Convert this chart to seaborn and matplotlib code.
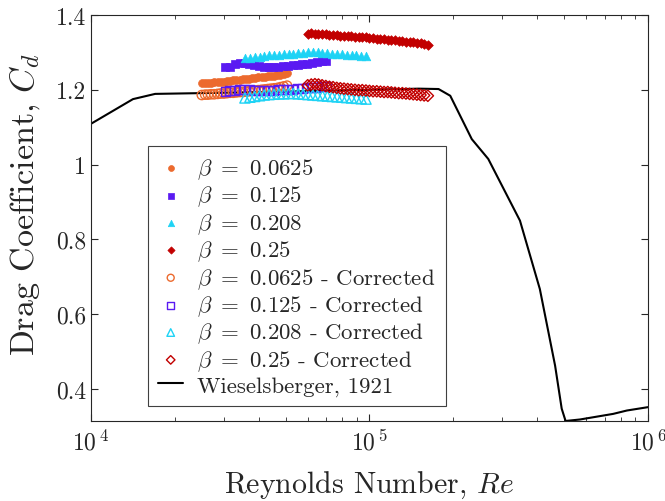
import matplotlib
matplotlib.use("Agg")
import matplotlib.pyplot as plt
import numpy as np
import pandas as pd
import seaborn as sns
from matplotlib.ticker import FixedLocator, FuncFormatter, LogLocator, NullFormatter

# Wieselsberger (1921) reference curve
wies_re = [1.0e4, 1.415e4, 1.7e4, 2.46e4, 5.0e4, 1.0e5, 1.5e5, 1.77e5, 1.95e5, 2.33e5, 2.67e5,
           3.47e5, 4.09e5, 4.64e5, 4.9e5, 5.06e5, 5.7e5, 7.5e5, 8.4e5, 1.0e6]
wies_cd = [1.109, 1.175, 1.189, 1.191, 1.195, 1.200, 1.203, 1.202, 1.184, 1.068, 1.015,
           0.850, 0.667, 0.462, 0.347, 0.314, 0.318, 0.333, 0.342, 0.351]

# beta = 0.0625
re_0625 = [25000, 25700, 26300, 27000, 27700, 28500, 29200, 30000, 30800, 31600, 32400, 33300,
           34200, 35100, 36000, 36900, 37900, 38900, 39900, 41000, 42100, 43200, 44300, 45500,
           46700, 47900, 49200, 50600]
cd_0625 = [1.217, 1.218, 1.219, 1.219, 1.220, 1.221, 1.222, 1.222, 1.223, 1.224, 1.225, 1.226,
           1.227, 1.228, 1.229, 1.230, 1.231, 1.232, 1.233, 1.234, 1.235, 1.236, 1.237, 1.238,
           1.239, 1.240, 1.242, 1.244]
cd_0625_corr = [1.186, 1.187, 1.187, 1.188, 1.188, 1.189, 1.190, 1.190, 1.191, 1.192, 1.192, 1.193,
                1.194, 1.194, 1.195, 1.196, 1.197, 1.198, 1.199, 1.200, 1.201, 1.202, 1.203, 1.204,
                1.205, 1.207, 1.209, 1.211]

# beta = 0.125
re_125 = [30300, 31500, 32800, 34200, 35600, 37000, 38500, 40100, 41700, 43400, 45200, 47000,
          48900, 50900, 53000, 55200, 57400, 59800, 62200, 64700, 67300, 70000]
cd_125 = [1.260, 1.262, 1.268, 1.272, 1.272, 1.268, 1.265, 1.263, 1.262, 1.261, 1.262, 1.262,
          1.263, 1.264, 1.265, 1.266, 1.268, 1.270, 1.272, 1.274, 1.276, 1.278]
cd_125_corr = [1.195, 1.197, 1.199, 1.201, 1.202, 1.200, 1.198, 1.197, 1.197, 1.198, 1.199, 1.200,
               1.200, 1.201, 1.202, 1.203, 1.204, 1.205, 1.206, 1.207, 1.208, 1.209]

# beta = 0.208
re_208 = [35700, 37200, 38700, 40300, 41900, 43600, 45400, 47300, 49200, 51200, 53300, 55500,
          57800, 60100, 62600, 65100, 67800, 70600, 73500, 76500, 79600, 82800, 86200, 89800,
          93400, 97200]
cd_208 = [1.284, 1.286, 1.288, 1.289, 1.290, 1.292, 1.293, 1.294, 1.295, 1.296, 1.297, 1.298,
          1.299, 1.300, 1.300, 1.300, 1.299, 1.298, 1.297, 1.296, 1.295, 1.294, 1.293, 1.292,
          1.291, 1.290]
cd_208_corr = [1.178, 1.180, 1.182, 1.184, 1.186, 1.187, 1.188, 1.189, 1.189, 1.190, 1.190, 1.189,
               1.188, 1.187, 1.186, 1.185, 1.184, 1.183, 1.182, 1.181, 1.180, 1.179, 1.178, 1.177,
               1.176, 1.175]

# beta = 0.25
re_25 = [60000, 61800, 63700, 65600, 67600, 69700, 71800, 74000, 76300, 78600, 81000, 83500,
         86000, 88700, 91400, 94200, 97100, 100000, 103000, 106200, 109500, 112800, 116300,
         119800, 123500, 127300, 131200, 135200, 139300, 143600, 148000, 152500, 157100, 162000]
cd_25 = [1.350, 1.351, 1.350, 1.349, 1.349, 1.348, 1.347, 1.347, 1.346, 1.345, 1.344, 1.344,
         1.343, 1.342, 1.341, 1.341, 1.340, 1.339, 1.338, 1.337, 1.336, 1.335, 1.334, 1.333,
         1.332, 1.331, 1.330, 1.329, 1.328, 1.327, 1.326, 1.324, 1.323, 1.321]
cd_25_corr = [1.212, 1.214, 1.215, 1.214, 1.212, 1.210, 1.208, 1.207, 1.205, 1.204, 1.203, 1.202,
              1.201, 1.200, 1.199, 1.199, 1.198, 1.197, 1.196, 1.196, 1.195, 1.194, 1.194, 1.193,
              1.192, 1.191, 1.191, 1.190, 1.189, 1.188, 1.187, 1.186, 1.185, 1.184]

betas = ["0.0625", "0.125", "0.208", "0.25"]
colors = ["#EC6A2E", "#5A1AF2", "#1ED3F5", "#C20000"]
markers = ["o", "s", "^", "D"]
sizes = [32, 30, 38, 24]

series = [
    (re_0625, cd_0625, cd_0625_corr),
    (re_125, cd_125, cd_125_corr),
    (re_208, cd_208, cd_208_corr),
    (re_25, cd_25, cd_25_corr),
]

sns.set_theme(style="ticks")
plt.rcParams["font.family"] = ["cmr10", "DejaVu Serif"]
plt.rcParams["mathtext.fontset"] = "cm"
plt.rcParams["axes.formatter.use_mathtext"] = True
plt.rcParams["axes.unicode_minus"] = False

fig = plt.figure(figsize=(6.65, 5.02), dpi=100)
ax = fig.add_axes([0.1368, 0.1594, 0.8376, 0.8087])

for (re, cd, _), beta, c, m, s in zip(series, betas, colors, markers, sizes):
    df = pd.DataFrame({"Re": re, "Cd": cd})
    sns.scatterplot(data=df, x="Re", y="Cd", marker=m, s=s, color=c, edgecolor=c,
                    linewidth=0.5, ax=ax, label=rf"$\beta\ =\ {beta}$", zorder=3)

for (re, _, cdc), beta, c, m, s in zip(series, betas, colors, markers, sizes):
    df = pd.DataFrame({"Re": re, "Cd": cdc})
    sns.scatterplot(data=df, x="Re", y="Cd", marker=m, s=s * 1.4, facecolor="none", edgecolor=c,
                    linewidth=1.0, ax=ax, label=rf"$\beta\ =\ {beta}$ - Corrected", zorder=3)

wies = pd.DataFrame({"Re": wies_re, "Cd": wies_cd})
sns.lineplot(data=wies, x="Re", y="Cd", color="black", linewidth=1.5, ax=ax,
             label="Wieselsberger, 1921", zorder=2)

ax.set_xscale("log")
ax.set_xlim(1e4, 1e6)
ax.set_ylim(0.314, 1.4)
ax.yaxis.set_major_locator(FixedLocator([0.4, 0.6, 0.8, 1.0, 1.2, 1.4]))
ax.yaxis.set_major_formatter(FuncFormatter(lambda v, p: f"{v:g}"))
ax.xaxis.set_major_locator(LogLocator(base=10))
ax.xaxis.set_major_formatter(FuncFormatter(lambda v, p: rf"$10^{{\,{int(round(np.log10(v)))}}}$"))
ax.xaxis.set_minor_locator(LogLocator(base=10, subs=np.arange(2, 10)))
ax.xaxis.set_minor_formatter(NullFormatter())

ax.tick_params(axis="both", which="both", direction="in", top=True, right=True,
               labelsize=17, colors="#262626")
ax.tick_params(which="major", length=5, width=0.8)
ax.tick_params(which="minor", length=3, width=0.6)
ax.tick_params(axis="x", which="major", pad=6)
for sp in ax.spines.values():
    sp.set_linewidth(0.8)
    sp.set_color("#262626")

ax.set_xlabel(r"Reynolds Number, $Re$", fontsize=21.5, labelpad=10)
ax.set_ylabel(r"Drag Coefficient, $C_d$", fontsize=24.5)
ax.yaxis.set_label_coords(-0.088, 0.535)

leg = ax.legend(loc="upper left", bbox_to_anchor=(0.102, 0.677), borderaxespad=0,
                fontsize=16.5, frameon=True, fancybox=False, edgecolor="#404040",
                framealpha=1, markerscale=0.75, handlelength=1.1, handletextpad=0.6,
                labelspacing=0.12, borderpad=0.45)
leg.get_frame().set_linewidth(0.8)

fig.savefig("out.png", dpi=100)
